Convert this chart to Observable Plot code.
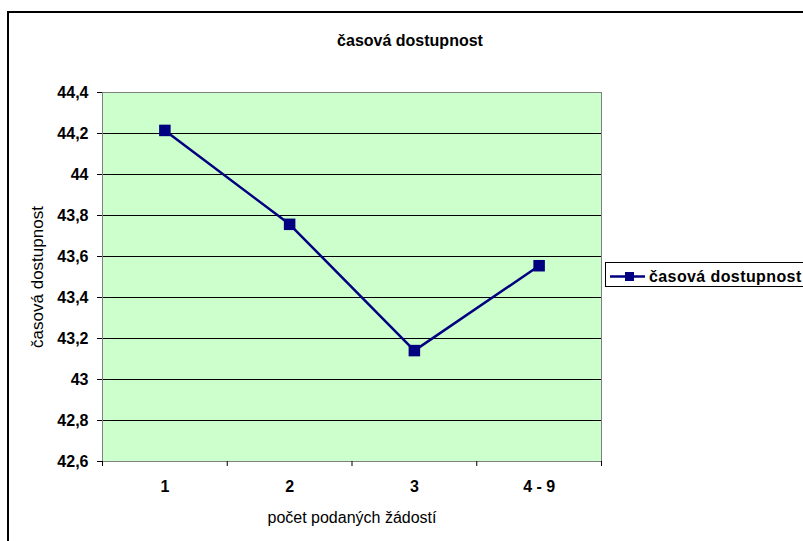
<!DOCTYPE html>
<html>
<head>
<meta charset="utf-8">
<script src="https://cdn.jsdelivr.net/npm/d3@7"></script>
<script src="https://cdn.jsdelivr.net/npm/@observablehq/plot@0.6"></script>
<style>
  html, body { margin: 0; padding: 0; background: #fff; overflow: hidden; }
  #chart { position: relative; width: 803px; height: 541px; overflow: hidden; }
</style>
</head>
<body>
<div id="chart"></div>
<script>
const title = "časová dostupnost";
const xTitle = "počet podaných žádostí";
const yTitle = "časová dostupnost";
const seriesName = "časová dostupnost";
const categories = ["1", "2", "3", "4 - 9"];
const values = [44.215, 43.757, 43.141, 43.555];
const yTicks = [42.6, 42.8, 43.0, 43.2, 43.4, 43.6, 43.8, 44.0, 44.2, 44.4];
const yTickLabels = ["42,6", "42,8", "43", "43,2", "43,4", "43,6", "43,8", "44", "44,2", "44,4"];

const data = categories.map((c, i) => ({idx: i + 1, cat: c, value: values[i]}));
const bandEdges = d3.range(categories.length + 1).map(i => i + 0.5);
const catPos = categories.map((c, i) => i + 1);
const font = "'Liberation Sans', Arial, sans-serif";

const plot = Plot.plot({
  width: 803,
  height: 541,
  marginLeft: 102,
  marginRight: 202,
  marginTop: 92,
  marginBottom: 80,
  style: {fontFamily: font, background: "transparent"},
  x: {domain: [0.5, categories.length + 0.5]},
  y: {domain: [42.6, 44.4]},
  marks: [
    Plot.frame({fill: "#CCFFCC", stroke: null}),
    Plot.ruleY(yTicks.slice(1, -1), {stroke: "#000", strokeWidth: 1}),
    Plot.frame({stroke: "#808080", strokeWidth: 1}),
    Plot.axisY({
      ticks: yTicks,
      tickFormat: (d) => yTickLabels[yTicks.findIndex(t => Math.abs(t - d) < 1e-9)],
      tickSize: 5,
      tickPadding: 9,
      label: null,
      fontSize: 16,
      fontWeight: "bold",
      stroke: "#000",
      fill: "#000"
    }),
    Plot.axisX({
      ticks: bandEdges,
      tickFormat: () => "",
      tickSize: 5,
      label: null,
      stroke: "#000"
    }),
    Plot.axisX({
      ticks: catPos,
      tickFormat: (d) => categories[d - 1],
      tickSize: 5,
      tickPadding: 14,
      label: null,
      fontSize: 16,
      fontWeight: "bold",
      stroke: null,
      fill: "#000"
    }),
    Plot.line(data, {x: "idx", y: "value", stroke: "#000080", strokeWidth: 2.5}),
    Plot.dot(data, {x: "idx", y: "value", symbol: "square", r: 6.5, fill: "#000080", stroke: "none"})
  ]
});

document.getElementById("chart").appendChild(plot);

const svg = d3.select(plot);
// outer chart border
svg.append("rect")
  .attr("x", 8).attr("y", 12).attr("width", 1000).attr("height", 700)
  .attr("fill", "none").attr("stroke", "#000").attr("stroke-width", 2);

// title
svg.append("text")
  .attr("x", 410).attr("y", 46)
  .attr("text-anchor", "middle")
  .attr("font-family", font).attr("font-size", 16).attr("font-weight", "bold")
  .attr("fill", "#000")
  .text(title);

// x axis title
svg.append("text")
  .attr("x", 352).attr("y", 523)
  .attr("text-anchor", "middle")
  .attr("font-family", font).attr("font-size", 16)
  .attr("fill", "#000")
  .text(xTitle);

// y axis title
svg.append("text")
  .attr("transform", "translate(43,277) rotate(-90)")
  .attr("text-anchor", "middle")
  .attr("font-family", font).attr("font-size", 17)
  .attr("fill", "#000")
  .text(yTitle);

// legend
const lg = svg.append("g");
lg.append("rect")
  .attr("x", 605.5).attr("y", 262.5).attr("width", 300).attr("height", 24)
  .attr("fill", "#fff").attr("stroke", "#000").attr("stroke-width", 1);
lg.append("line")
  .attr("x1", 610).attr("x2", 645).attr("y1", 276.5).attr("y2", 276.5)
  .attr("stroke", "#000080").attr("stroke-width", 2.5);
lg.append("rect")
  .attr("x", 625).attr("y", 272).attr("width", 9).attr("height", 9)
  .attr("fill", "#000080");
lg.append("text")
  .attr("x", 649).attr("y", 282)
  .attr("text-anchor", "start")
  .attr("font-family", font).attr("font-size", 16).attr("font-weight", "bold")
  .attr("letter-spacing", 0.4)
  .attr("fill", "#000")
  .text(seriesName);
</script>
</body>
</html>
